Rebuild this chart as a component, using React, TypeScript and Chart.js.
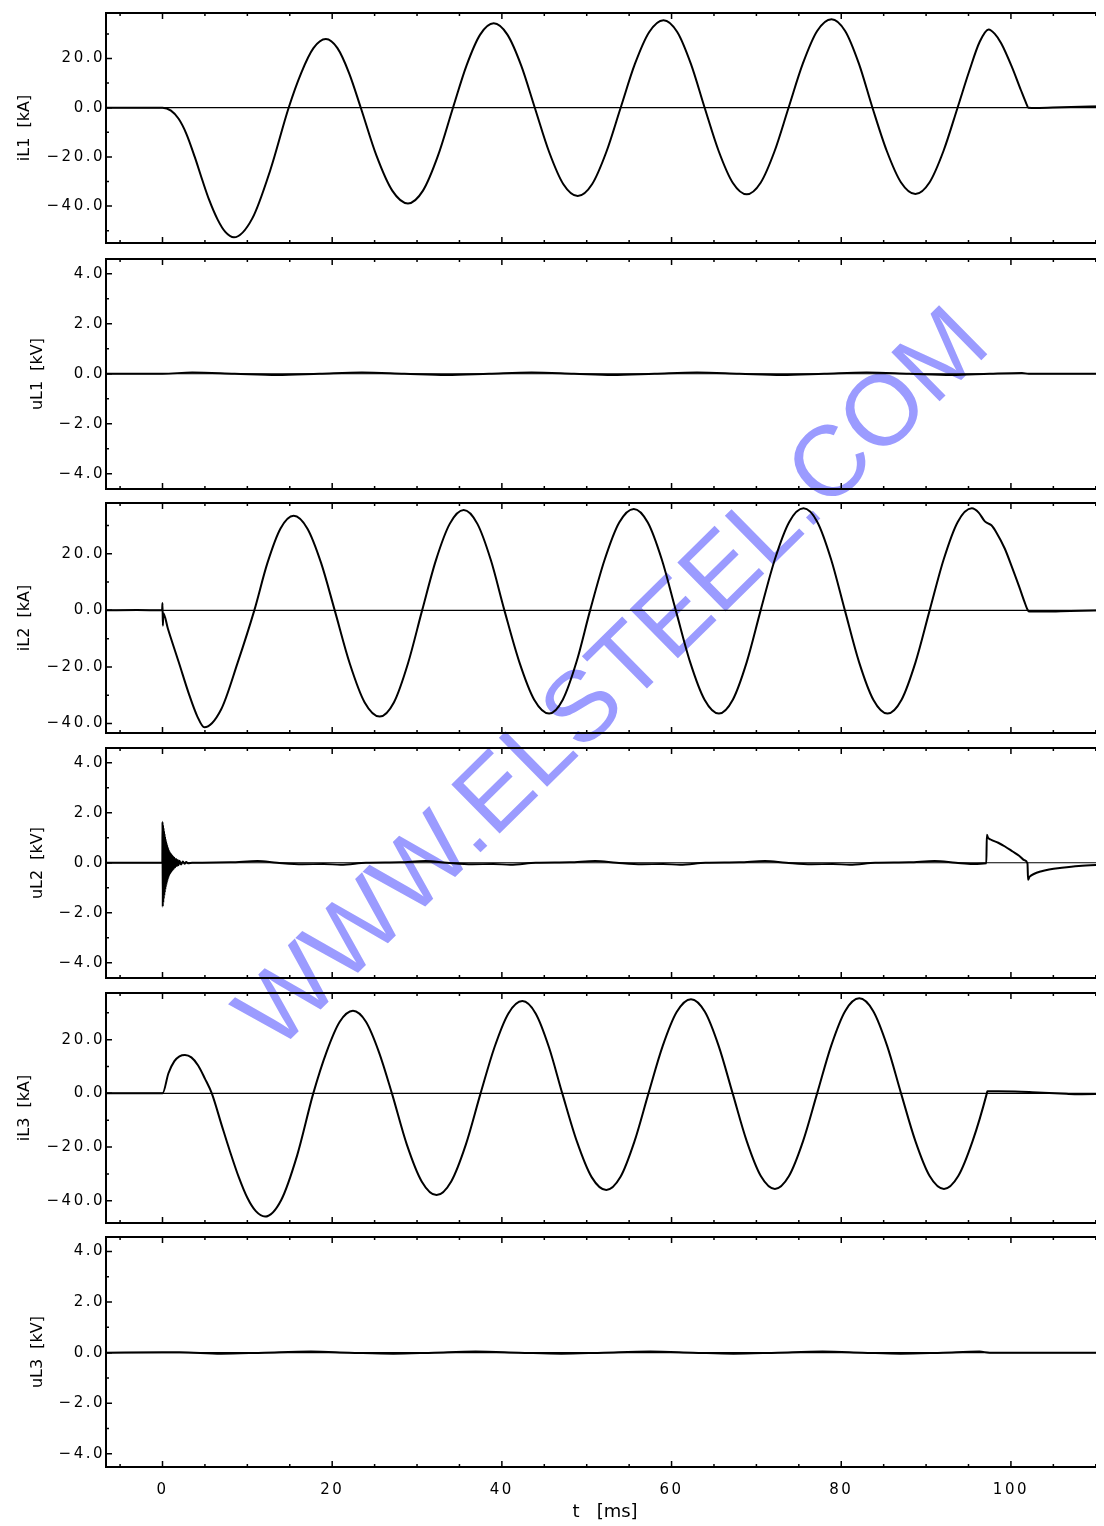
import React, { useEffect, useRef } from "react";
import { Chart, registerables } from "chart.js";

Chart.register(...registerables);

type Pt = [number, number];

// ---------- axes ----------
const X_MIN = -6.66;
const X_MAX = 110.97;
const xTickValues = [0, 20, 40, 60, 80, 100];
const xMinorTicks = [-5, 5, 10, 15, 25, 30, 35, 45, 50, 55, 65, 70, 75, 85, 90, 95, 105, 110];

const currentTicks = [-40, -20, 0, 20];
const currentMinorTicks = [-50, -30, -10, 10, 30];
const voltageTicks = [-4, -2, 0, 2, 4];
const voltageMinorTicks = [-3, -1, 1, 3];

const panelTitles = ["iL1  [kA]", "uL1  [kV]", "iL2  [kA]", "uL2  [kV]", "iL3  [kA]", "uL3  [kV]"];
const panelRanges: Pt[] = [
  [-55.0, 38.5],
  [-4.61, 4.59],
  [-43.4, 38.0],
  [-4.61, 4.59],
  [-48.3, 37.4],
  [-4.52, 4.57],
];
const xTitle = "t   [ms]";

// ---------- series (t [ms], value) ----------
const iL1: Pt[] = [
  [-6.66, 0], [0.0, 0], [1.0, -1.2], [1.9, -4.5], [2.8, -10.5], [3.8, -20.0], [4.7, -29.5],
  [5.5, -37.5], [6.5, -45.5], [7.4, -50.5], [8.42, -52.7], [10.57, -45.1], [12.72, -25.2],
  [14.87, 0], [16.33, 14.0], [17.79, 24.2], [19.25, 27.9], [20.62, 24.2], [22.0, 14.0], [23.37, 0],
  [25.22, -19.5], [27.08, -33.7], [28.93, -38.9], [30.7, -33.7], [32.47, -19.5], [34.24, 0],
  [35.84, 17.2], [37.44, 29.7], [39.04, 34.3], [40.65, 29.7], [42.27, 17.2], [43.88, 0],
  [45.57, -18.0], [47.25, -31.1], [48.94, -35.9], [50.63, -31.1], [52.31, -18.0], [54.0, 0],
  [55.68, 17.8], [57.37, 30.8], [59.05, 35.6], [60.67, 30.8], [62.28, 17.8], [63.9, 0],
  [65.55, -17.6], [67.21, -30.5], [68.86, -35.2], [70.5, -30.5], [72.15, -17.6], [73.79, 0],
  [75.48, 18.0], [77.16, 31.2], [78.85, 36.0], [80.46, 31.2], [82.07, 18.0], [83.68, 0],
  [85.37, -17.6], [87.05, -30.4], [88.74, -35.1], [90.4, -30.4], [92.05, -17.6], [93.71, 0],
  [95.06, 14.6], [96.32, 26.8], [97.37, 31.8], [98.1, 30.0], [98.85, 26.2], [100.1, 16.7],
  [101.17, 7.2], [101.8, 1.8], [102.05, 0], [103.0, -0.1], [106.0, 0.2], [110.97, 0.6],
];

const uL1: Pt[] = [
  [-6.66, 0], [0, 0], [3.5, 0.05], [8.5, 0], [13.5, -0.05], [18.5, 0], [23.5, 0.05], [28.5, 0],
  [33.5, -0.05], [38.5, 0], [43.5, 0.05], [48.5, 0], [53, -0.05], [58, 0], [63, 0.05], [68, 0],
  [73, -0.05], [78, 0], [83, 0.05], [88, 0], [93, -0.05], [97.5, 0], [101.3, 0.03], [102.1, 0],
  [110.97, 0],
];

const iL2: Pt[] = [
  [-6.66, 0], [-3, 0.1], [-0.05, 0], [0, 2.6], [0.04, -5.4], [0.1, -1.0], [0.63, -6.4],
  [1.9, -18.2], [3.16, -30.0], [4.1, -37.5], [4.93, -41.4], [6.89, -35.2], [8.86, -18.5],
  [10.82, 0], [12.37, 16.8], [13.91, 29.0], [15.46, 33.5], [17.07, 29.0], [18.69, 16.8], [20.3, 0],
  [22.07, -18.8], [23.83, -32.6], [25.6, -37.6], [27.27, -32.6], [28.93, -18.8], [30.6, 0],
  [32.23, 17.8], [33.87, 30.7], [35.5, 35.5], [37.1, 30.7], [38.7, 17.8], [40.3, 0],
  [42.06, -18.3], [43.81, -31.6], [45.57, -36.5], [47.18, -31.6], [48.79, -18.3], [50.4, 0],
  [52.12, 18.0], [53.83, 31.1], [55.55, 35.9], [57.2, 31.1], [58.85, 18.0], [60.5, 0],
  [62.19, -18.3], [63.89, -31.6], [65.58, -36.5], [67.22, -31.6], [68.86, -18.3], [70.5, 0],
  [72.18, 18.1], [73.87, 31.3], [75.55, 36.1], [77.18, 31.3], [78.8, 18.1], [80.43, 0],
  [82.1, -18.3], [83.78, -31.6], [85.45, -36.5], [87.11, -31.6], [88.76, -18.3], [90.42, 0],
  [92.08, 18.1], [93.73, 31.3], [95.39, 36.1], [96.2, 34.6], [96.9, 31.6], [97.3, 30.8],
  [97.7, 30.1], [98.3, 27.5], [99.27, 21.9], [100.1, 15.5], [100.96, 8.5], [101.6, 3.0],
  [102.0, 0], [102.2, -0.4], [104.0, -0.4], [107.0, -0.2], [110.97, 0],
];

const uL2: Pt[] = [
  [-6.66, 0], [-0.02, 0],
  [0.0, 1.64], [0.03, -1.76], [0.06, 1.52], [0.09, -1.6], [0.12, 1.4], [0.15, -1.45],
  [0.18, 1.28], [0.21, -1.32], [0.24, 1.17], [0.27, -1.2], [0.3, 1.06], [0.33, -1.08],
  [0.36, 0.96], [0.39, -0.98], [0.42, 0.87], [0.45, -0.89], [0.48, 0.79], [0.51, -0.81],
  [0.54, 0.72], [0.57, -0.73], [0.6, 0.65], [0.63, -0.66], [0.66, 0.59], [0.69, -0.6],
  [0.72, 0.53], [0.75, -0.54], [0.8, 0.47], [0.85, -0.47], [0.9, 0.41], [0.95, -0.41],
  [1.0, 0.36], [1.05, -0.36], [1.1, 0.31], [1.15, -0.31], [1.2, 0.27], [1.25, -0.27],
  [1.3, 0.23], [1.35, -0.23], [1.4, 0.2], [1.5, -0.18], [1.6, 0.15], [1.7, -0.13],
  [1.8, 0.11], [1.9, -0.1], [2.0, 0.08], [2.2, -0.07], [2.4, 0.05], [2.6, -0.04],
  [2.8, 0.03], [3.0, -0.02], [3.5, 0],
  [8, 0.02], [11.2, 0.07], [13.5, 0], [16.5, -0.06], [19, -0.05], [21, -0.08], [24, 0],
  [28, 0.02], [31, 0.07], [33.5, 0], [36.5, -0.06], [39, -0.05], [41, -0.08], [44, 0],
  [48, 0.02], [51, 0.07], [53.5, 0], [56.5, -0.06], [59, -0.05], [61, -0.08], [64, 0],
  [68, 0.02], [71, 0.07], [73.5, 0], [76.5, -0.06], [79, -0.05], [81, -0.08], [84, 0],
  [88, 0.02], [91, 0.07], [93.5, 0], [95.5, -0.05], [97.1, -0.02],
  [97.16, 1.12], [97.3, 1.0], [97.6, 0.93], [98.5, 0.8], [99.3, 0.65], [100.2, 0.45],
  [101.0, 0.27], [101.6, 0.1], [101.95, -0.03], [102.02, -0.68], [102.2, -0.56],
  [102.7, -0.45], [103.5, -0.35], [104.5, -0.27], [106, -0.2], [108, -0.13], [110.97, -0.08],
];

const iL3: Pt[] = [
  [-6.66, 0], [0, 0], [0.7, 7.5], [1.4, 12.0], [2.0, 13.8], [2.65, 14.3], [3.4, 13.4],
  [4.2, 10.4], [5.0, 5.5], [5.81, 0], [7.0, -12.1], [7.9, -21.1], [9.0, -31.3], [10.0, -38.9],
  [11.0, -43.9], [12.09, -45.9], [13.98, -39.8], [15.88, -23.0], [17.77, 0],
  [19.33, 15.4], [20.89, 26.7], [22.45, 30.8], [23.98, 26.7], [25.51, 15.4], [27.04, 0],
  [28.79, -19.0], [30.55, -32.8], [32.3, -37.9], [34.03, -32.8], [35.76, -19.0], [37.49, 0],
  [39.13, 17.2], [40.77, 29.8], [42.41, 34.4], [43.98, 29.8], [45.55, 17.2], [47.12, 0],
  [48.85, -18.0], [50.58, -31.2], [52.31, -36.0], [53.97, -31.2], [55.62, -18.0], [57.28, 0],
  [58.95, 17.6], [60.62, 30.4], [62.29, 35.1], [63.93, 30.4], [65.56, 17.6], [67.2, 0],
  [68.86, -17.8], [70.52, -30.8], [72.18, -35.6], [73.84, -30.8], [75.5, -17.8], [77.16, 0],
  [78.81, 17.7], [80.47, 30.7], [82.12, 35.4], [83.76, 30.7], [85.41, 17.7], [87.05, 0],
  [88.74, -17.8], [90.42, -30.8], [92.11, -35.6], [93.79, -30.8], [95.48, -17.8], [97.16, 0],
  [97.22, 0.8], [98.5, 0.8], [100.5, 0.7], [102.5, 0.45], [104.5, 0.15], [106.5, -0.15],
  [108, -0.3], [110.97, -0.2],
];

const uL3: Pt[] = [
  [-6.66, 0], [0, 0.02], [2, 0.02], [6.9, -0.04], [12, 0], [17.5, 0.04], [22, 0],
  [27.2, -0.04], [32, 0], [36.9, 0.04], [42, 0], [47, -0.04], [52, 0], [57.5, 0.04],
  [62.5, 0], [67.3, -0.04], [72.5, 0], [77.8, 0.04], [82.5, 0], [87, -0.04], [92, 0],
  [96.3, 0.04], [97.5, 0], [110.97, 0],
];

const seriesList: Pt[][] = [iL1, uL1, iL2, uL2, iL3, uL3];
const watermarkText = "WWW.ELSTEEL.COM";

// ---------- layout (container coordinates) ----------
const CANVAS_W = 1096;
const CANVAS_TOPS = [0, 246, 490, 735, 980, 1224];
const PANEL_H = 240;
const LAST_H = 294;

Chart.defaults.font.family = "'DejaVu Sans', 'Liberation Sans', sans-serif";
Chart.defaults.color = "#000";

const fmtY = (v: number) => (v < 0 ? "\u2212" : "") + Math.abs(v).toFixed(1);

const frameTicksPlugin = {
  id: "frameTicks",
  beforeDraw(chart: any) {
    chart.ctx.letterSpacing = "0px";
  },
  afterDatasetsDraw(chart: any, _args: any, opts: any) {
    const ctx = chart.ctx;
    const { left, right, top, bottom } = chart.chartArea;
    const xs = chart.scales.x;
    const ys = chart.scales.y;
    ctx.save();
    ctx.strokeStyle = "#000";
    ctx.lineWidth = 1.5;
    ctx.beginPath();
    const tickX = (v: number, len: number) => {
      if (v < xs.min || v > xs.max) return;
      const p = xs.getPixelForValue(v);
      ctx.moveTo(p, bottom);
      ctx.lineTo(p, bottom - len);
      ctx.moveTo(p, top);
      ctx.lineTo(p, top + len);
    };
    const tickY = (v: number, len: number) => {
      if (v < ys.min || v > ys.max) return;
      const p = ys.getPixelForValue(v);
      ctx.moveTo(left, p);
      ctx.lineTo(left + len, p);
      ctx.moveTo(right, p);
      ctx.lineTo(right - len, p);
    };
    xTickValues.forEach((v) => tickX(v, 6));
    xMinorTicks.forEach((v) => tickX(v, 3));
    (opts.major as number[]).forEach((v) => tickY(v, 6));
    (opts.minor as number[]).forEach((v) => tickY(v, 3));
    ctx.stroke();
    // frame: left, top, bottom (the right edge lies just past the visible page)
    ctx.lineWidth = 2;
    ctx.beginPath();
    ctx.moveTo(right + 2, top);
    ctx.lineTo(left, top);
    ctx.lineTo(left, bottom);
    ctx.lineTo(right + 2, bottom);
    ctx.stroke();
    ctx.restore();
    ctx.letterSpacing = "2.5px";
  },
  afterDraw(chart: any) {
    chart.ctx.letterSpacing = "0px";
  },
};

function makeChart(canvas: HTMLCanvasElement, i: number) {
  const isLast = i === 5;
  const isCurrent = i % 2 === 0;
  const [ymin, ymax] = panelRanges[i];
  const major = isCurrent ? currentTicks : voltageTicks;
  const minor = isCurrent ? currentMinorTicks : voltageMinorTicks;
  return new Chart(canvas, {
    type: "line",
    data: {
      datasets: [
        {
          data: [
            { x: X_MIN, y: 0 },
            { x: X_MAX, y: 0 },
          ],
          borderColor: "#000",
          borderWidth: 1.2,
          pointRadius: 0,
          tension: 0,
        },
        {
          data: seriesList[i].map(([x, y]) => ({ x, y })),
          borderColor: "#000",
          borderWidth: 2,
          pointRadius: 0,
          cubicInterpolationMode: "monotone",
        },
      ],
    },
    options: {
      responsive: false,
      animation: false,
      events: [],
      layout: { autoPadding: false, padding: { top: 5, bottom: isLast ? 0 : 5, left: 0, right: 0 } },
      scales: {
        x: {
          type: "linear",
          min: X_MIN,
          max: X_MAX,
          display: isLast,
          afterBuildTicks: (s: any) => {
            s.ticks = xTickValues.map((v) => ({ value: v }));
          },
          afterFit: (s: any) => {
            if (isLast) s.height = LAST_H - 235;
            s.paddingLeft = 0;
            s.paddingRight = 0;
          },
          grid: { display: false, drawTicks: false },
          border: { display: false },
          ticks: {
            z: 1,
            padding: 14,
            font: { size: 15 },
            color: "#000",
            maxRotation: 0,
            autoSkip: false,
            callback: (v: any) => String(v),
          },
          title: {
            display: true,
            text: xTitle,
            font: { size: 18 },
            color: "#000",
            padding: { top: 0, bottom: 3 },
          },
        },
        y: {
          type: "linear",
          position: "left",
          min: ymin,
          max: ymax,
          afterBuildTicks: (s: any) => {
            s.ticks = major.map((v) => ({ value: v }));
          },
          afterFit: (s: any) => {
            s.width = 98;
            s.paddingTop = 0;
            s.paddingBottom = 0;
          },
          grid: { display: false, drawTicks: false },
          border: { display: false },
          ticks: {
            z: 1,
            padding: 1,
            font: { size: 15 },
            color: "#000",
            autoSkip: false,
            callback: (v: any) => fmtY(Number(v)),
          },
          title: {
            display: true,
            text: panelTitles[i],
            font: { size: 16 },
            color: "#000",
            padding: { top: isCurrent ? 7 : 20, bottom: 0 },
          },
        },
      },
      plugins: {
        legend: { display: false },
        tooltip: { enabled: false },
        frameTicks: { major, minor },
      } as any,
    },
    plugins: [frameTicksPlugin as any],
  } as any);
}

export default function App() {
  const refs = useRef<(HTMLCanvasElement | null)[]>([]);

  useEffect(() => {
    const charts = refs.current.map((c, i) => (c ? makeChart(c, i) : null));
    return () => {
      charts.forEach((ch) => ch && ch.destroy());
    };
  }, []);

  return (
    <div style={{ position: "relative", width: 1096, height: 1518 }}>
      <div style={{ position: "absolute", left: 602, top: 668, width: 0, height: 0 }}>
        <div
          style={{
            position: "absolute",
            left: 0,
            top: 0,
            transform: "translate(-50%, -50%) rotate(-44.5deg)",
            whiteSpace: "nowrap",
            font: '100px "Liberation Sans", Arial, sans-serif',
            lineHeight: "1",
            color: "#9b9bff",
          }}
        >
          {watermarkText}
        </div>
      </div>
      {CANVAS_TOPS.map((top, i) => (
        <canvas
          key={i}
          ref={(el) => {
            refs.current[i] = el;
          }}
          width={CANVAS_W}
          height={i === 5 ? LAST_H : PANEL_H}
          style={{ position: "absolute", left: 0, top }}
        />
      ))}
    </div>
  );
}
